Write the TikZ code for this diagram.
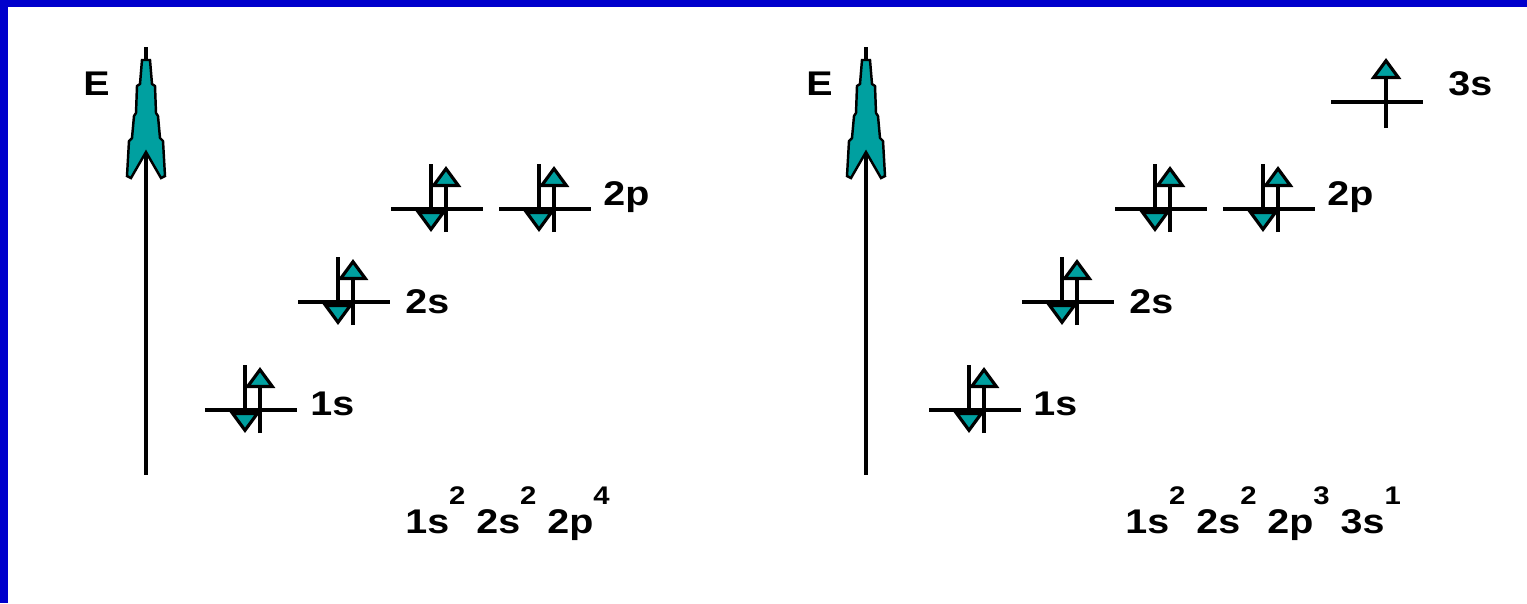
\documentclass[tikz,border=0pt]{standalone}
\usepackage{fontspec}
\setmainfont{Liberation Sans}[FakeStretch=1.15]
\usetikzlibrary{arrows.meta}
\definecolor{frameblue}{RGB}{0,0,204}
\definecolor{spinteal}{RGB}{0,160,160}
\newcommand\ssup[1]{\raisebox{16pt}{\fontsize{14.5}{15}\selectfont #1}}

\begin{document}
\begin{tikzpicture}[
    x=0.02cm, y=-0.02cm,
    lvl/.style={line width=1.8pt, black},
    spin/.style={line width=1.8pt, black, -{Triangle[length=0.42cm, width=0.6cm, fill=spinteal]}},
    lab/.style={font=\fontsize{19.5}{21}\selectfont\bfseries, anchor=base west, inner sep=0pt},
    pair/.pic={
        \draw[lvl] (-46,0) -- (46,0);
        \draw[spin] (-6,-45) -- (-6,23);
        \draw[spin] (9,23) -- (9,-43);
    },
    single/.pic={
        \draw[lvl] (-46,0) -- (46,0);
        \draw[spin] (9,26) -- (9,-44);
    },
    eaxis/.pic={
        \draw[line width=1.8pt] (0,47) -- (0,475);
        \draw[line width=1.4pt, fill=spinteal] (-4,60) -- (4,60) -- (6,84) -- (9,86) -- (10,113) -- (12,116)
            -- (14,138) -- (17,141) -- (19,176) -- (15,178) -- (0,152) -- (-15,178) -- (-19,176)
            -- (-17,141) -- (-14,138) -- (-12,116) -- (-10,113) -- (-9,86) -- (-6,84) -- cycle;
    },
]
% frame
\fill[white] (0,0) rectangle (1527,603);
\fill[frameblue] (0,0) rectangle (1527,7);
\fill[frameblue] (0,0) rectangle (8,603);

% Left diagram: ground state
\pic at (146,0) {eaxis};
\node[lab] (eL) at (83,95) {E};
\pic at (251,410) {pair};
\pic at (344,302) {pair};
\pic at (437,209) {pair};
\pic at (545,209) {pair};
\node[lab] (s1L) at (310,415) {1s};
\node[lab] (s2L) at (405,313) {2s};
\node[lab] (p2L) at (603,205) {2p};
\node[lab] (cfgL) at (405,533) {1s\ssup{2} 2s\ssup{2} 2p\ssup{4}};

% Right diagram: excited state
\pic at (866,0) {eaxis};
\node[lab] (eR) at (806,95) {E};
\pic at (975,410) {pair};
\pic at (1068,302) {pair};
\pic at (1161,209) {pair};
\pic at (1269,209) {pair};
\pic at (1377,102) {single};
\node[lab] (s1R) at (1033,415) {1s};
\node[lab] (s2R) at (1129,313) {2s};
\node[lab] (p2R) at (1327,205) {2p};
\node[lab] (s3R) at (1448,95) {3s};
\node[lab] (cfgR) at (1125,533) {1s\ssup{2} 2s\ssup{2} 2p\ssup{3} 3s\ssup{1}};
\end{tikzpicture}
\end{document}
